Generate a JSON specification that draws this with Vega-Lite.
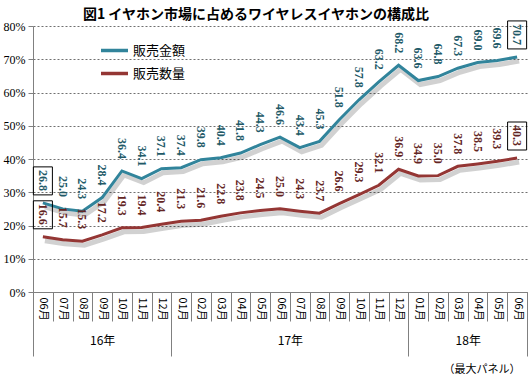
{
  "$schema": "https://vega.github.io/schema/vega-lite/v6.json",
  "autosize": {"type": "none"},
  "width": 494,
  "height": 266,
  "padding": {"left": 33, "top": 26, "right": 5, "bottom": 88},
  "background": "white",
  "title": {"text": "図1  イヤホン市場に占めるワイヤレスイヤホンの構成比", "font": "Noto Sans CJK JP", "fontSize": 14, "fontWeight": "bold", "color": "#000000", "anchor": "middle", "dx": -24, "offset": -3},
  "config": {"view": {"stroke": null}},
  "data": {"values": [
    {"i": 0, "y": "16年", "m": "06月", "s": "販売金額", "v": 26.8},
    {"i": 1, "y": "16年", "m": "07月", "s": "販売金額", "v": 25.0},
    {"i": 2, "y": "16年", "m": "08月", "s": "販売金額", "v": 24.3},
    {"i": 3, "y": "16年", "m": "09月", "s": "販売金額", "v": 28.4},
    {"i": 4, "y": "16年", "m": "10月", "s": "販売金額", "v": 36.4},
    {"i": 5, "y": "16年", "m": "11月", "s": "販売金額", "v": 34.1},
    {"i": 6, "y": "16年", "m": "12月", "s": "販売金額", "v": 37.1},
    {"i": 7, "y": "17年", "m": "01月", "s": "販売金額", "v": 37.4},
    {"i": 8, "y": "17年", "m": "02月", "s": "販売金額", "v": 39.8},
    {"i": 9, "y": "17年", "m": "03月", "s": "販売金額", "v": 40.4},
    {"i": 10, "y": "17年", "m": "04月", "s": "販売金額", "v": 41.8},
    {"i": 11, "y": "17年", "m": "05月", "s": "販売金額", "v": 44.3},
    {"i": 12, "y": "17年", "m": "06月", "s": "販売金額", "v": 46.6},
    {"i": 13, "y": "17年", "m": "07月", "s": "販売金額", "v": 43.4},
    {"i": 14, "y": "17年", "m": "08月", "s": "販売金額", "v": 45.3},
    {"i": 15, "y": "17年", "m": "09月", "s": "販売金額", "v": 51.8},
    {"i": 16, "y": "17年", "m": "10月", "s": "販売金額", "v": 57.8},
    {"i": 17, "y": "17年", "m": "11月", "s": "販売金額", "v": 63.2},
    {"i": 18, "y": "17年", "m": "12月", "s": "販売金額", "v": 68.2},
    {"i": 19, "y": "18年", "m": "01月", "s": "販売金額", "v": 63.6},
    {"i": 20, "y": "18年", "m": "02月", "s": "販売金額", "v": 64.8},
    {"i": 21, "y": "18年", "m": "03月", "s": "販売金額", "v": 67.3},
    {"i": 22, "y": "18年", "m": "04月", "s": "販売金額", "v": 69.0},
    {"i": 23, "y": "18年", "m": "05月", "s": "販売金額", "v": 69.6},
    {"i": 24, "y": "18年", "m": "06月", "s": "販売金額", "v": 70.7},
    {"i": 0, "y": "16年", "m": "06月", "s": "販売数量", "v": 16.6},
    {"i": 1, "y": "16年", "m": "07月", "s": "販売数量", "v": 15.7},
    {"i": 2, "y": "16年", "m": "08月", "s": "販売数量", "v": 15.3},
    {"i": 3, "y": "16年", "m": "09月", "s": "販売数量", "v": 17.2},
    {"i": 4, "y": "16年", "m": "10月", "s": "販売数量", "v": 19.3},
    {"i": 5, "y": "16年", "m": "11月", "s": "販売数量", "v": 19.4},
    {"i": 6, "y": "16年", "m": "12月", "s": "販売数量", "v": 20.4},
    {"i": 7, "y": "17年", "m": "01月", "s": "販売数量", "v": 21.3},
    {"i": 8, "y": "17年", "m": "02月", "s": "販売数量", "v": 21.6},
    {"i": 9, "y": "17年", "m": "03月", "s": "販売数量", "v": 22.8},
    {"i": 10, "y": "17年", "m": "04月", "s": "販売数量", "v": 23.8},
    {"i": 11, "y": "17年", "m": "05月", "s": "販売数量", "v": 24.5},
    {"i": 12, "y": "17年", "m": "06月", "s": "販売数量", "v": 25.0},
    {"i": 13, "y": "17年", "m": "07月", "s": "販売数量", "v": 24.3},
    {"i": 14, "y": "17年", "m": "08月", "s": "販売数量", "v": 23.7},
    {"i": 15, "y": "17年", "m": "09月", "s": "販売数量", "v": 26.6},
    {"i": 16, "y": "17年", "m": "10月", "s": "販売数量", "v": 29.3},
    {"i": 17, "y": "17年", "m": "11月", "s": "販売数量", "v": 32.1},
    {"i": 18, "y": "17年", "m": "12月", "s": "販売数量", "v": 36.9},
    {"i": 19, "y": "18年", "m": "01月", "s": "販売数量", "v": 34.9},
    {"i": 20, "y": "18年", "m": "02月", "s": "販売数量", "v": 35.0},
    {"i": 21, "y": "18年", "m": "03月", "s": "販売数量", "v": 37.8},
    {"i": 22, "y": "18年", "m": "04月", "s": "販売数量", "v": 38.5},
    {"i": 23, "y": "18年", "m": "05月", "s": "販売数量", "v": 39.3},
    {"i": 24, "y": "18年", "m": "06月", "s": "販売数量", "v": 40.3}
  ]},
  "encoding": {
    "y": {"field": "v", "type": "quantitative", "scale": {"domain": [0, 80], "nice": false, "zero": true},
      "axis": {"values": [0,10,20,30,40,50,60,70,80], "tickCount": 9, "labelExpr": "datum.value + '%'", "labelFont": "Liberation Sans Narrow", "labelFontSize": 12, "labelColor": "#000000",
        "tickSize": 5, "tickColor": "#808080", "domainColor": "#808080", "labelPadding": 3,
        "grid": true, "gridDash": [2, 2], "gridColor": "#707070", "gridWidth": 1, "title": null}}
  },
  "resolve": {"axis": {"x": "independent"}, "scale": {"x": "shared"}},
  "layer": [
    {
      "mark": {"type": "line", "strokeWidth": 5, "color": "#000000", "opacity": 0.18, "xOffset": 2, "yOffset": 4},
      "encoding": {
        "x": {"field": "i", "type": "quantitative", "scale": {"domain": [-0.5, 24.5], "nice": false, "zero": false},
          "axis": {"orient": "bottom", "values": [0,1,2,3,4,5,6,7,8,9,10,11,12,13,14,15,16,17,18,19,20,21,22,23,24],
            "labelExpr": "['06','07','08','09','10','11','12','01','02','03','04','05','06','07','08','09','10','11','12','01','02','03','04','05','06'][datum.value] + '月'",
            "labelAngle": 90, "labelPadding": 5, "labelFont": "Noto Sans CJK JP", "labelFontSize": 11, "labelColor": "#000000",
            "ticks": false, "grid": false, "domainColor": "#808080", "title": null}},
        "detail": {"field": "s"}
      }
    },
    {
      "mark": {"type": "line", "strokeWidth": 3},
      "encoding": {
        "x": {"field": "i", "type": "quantitative", "axis": null},
        "color": {"field": "s", "type": "nominal", "scale": {"domain": ["販売金額", "販売数量"], "range": ["#31849B", "#943634"]},
          "legend": {"title": null, "orient": "none", "legendX": 66, "legendY": 9, "symbolType": "stroke", "symbolSize": 729, "symbolStrokeWidth": 3.5,
            "labelFont": "Noto Sans CJK JP", "labelFontSize": 13, "labelColor": "#000000", "rowPadding": 0, "labelOffset": 3, "padding": 0}}
      }
    },
    {
      "transform": [{"filter": "datum.i == 0 || datum.i == 24"}],
      "mark": {"type": "point", "shape": "M-0.68,-1L0.68,-1L0.68,1L-0.68,1Z", "size": 784, "filled": false, "stroke": "#000000", "strokeWidth": 1, "opacity": 1, "yOffset": -22},
      "encoding": {
        "x": {"field": "i", "type": "quantitative", "axis": null}
      }
    },
    {
      "mark": {"type": "text", "angle": 90, "align": "right", "baseline": "middle", "dx": -12, "font": "Liberation Sans Narrow", "fontSize": 12, "fontWeight": "bold"},
      "encoding": {
        "x": {"field": "i", "type": "quantitative", "axis": null},
        "text": {"field": "v", "type": "quantitative", "format": ".1f"},
        "color": {"condition": {"test": "datum.s === '販売金額'", "value": "#215967"}, "value": "#632523"}
      }
    },
    {
      "mark": {"type": "point", "opacity": 0},
      "encoding": {
        "x": {"field": "i", "type": "quantitative",
          "axis": {"orient": "bottom", "values": [-0.5,0.5,1.5,2.5,3.5,4.5,5.5,6.5,7.5,8.5,9.5,10.5,11.5,12.5,13.5,14.5,15.5,16.5,17.5,18.5,19.5,20.5,21.5,22.5,23.5,24.5],
            "labels": false, "domain": false, "grid": false, "tickSize": 29, "tickColor": "#808080", "title": null}}
      }
    },
    {
      "mark": {"type": "point", "opacity": 0},
      "encoding": {
        "x": {"field": "i", "type": "quantitative",
          "axis": {"orient": "bottom", "values": [-0.5, 6.5, 18.5, 24.5],
            "labels": false, "domain": false, "grid": false, "tickSize": 64, "tickColor": "#808080", "title": null}}
      }
    },
    {
      "mark": {"type": "point", "opacity": 0},
      "encoding": {
        "x": {"field": "i", "type": "quantitative",
          "axis": {"orient": "bottom", "values": [3, 12.5, 21.5],
            "labelExpr": "datum.value == 3 ? '16年' : datum.value == 12.5 ? '17年' : '18年'",
            "labelFont": "Noto Sans CJK JP", "labelFontSize": 12, "labelColor": "#000000", "labelPadding": 43, "labelAngle": 0,
            "ticks": false, "domain": false, "grid": false,
            "title": "（最大パネル）", "titleFont": "Noto Sans CJK JP", "titleFontSize": 11, "titleFontWeight": "normal", "titleColor": "#000000",
            "titleAnchor": "end", "titleAlign": "right", "titleX": 487, "titlePadding": 17}}
      }
    }
  ]
}
